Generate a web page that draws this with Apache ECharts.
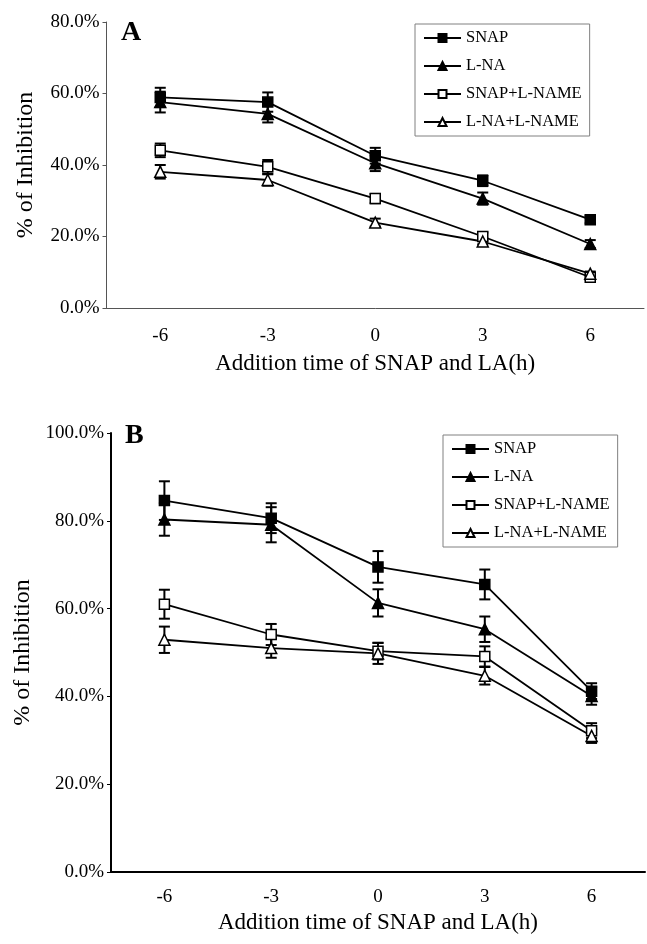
<!DOCTYPE html>
<html>
<head>
<meta charset="utf-8">
<script src="https://cdn.jsdelivr.net/npm/echarts@6/dist/echarts.min.js"></script>
<style>
html,body{margin:0;padding:0;background:#fff;}
#chart{width:647px;height:944px;}
</style>
</head>
<body>
<div id="chart"></div>
<script>
// ---- data ----
var categories = ['-6', '-3', '0', '3', '6'];
var seriesNames = ['SNAP', 'L-NA', 'SNAP+L-NAME', 'L-NA+L-NAME'];

// Panel A (% inhibition)
var snapA = [58.9, 57.6, 42.6, 35.6, 24.7];
var lnaA = [57.6, 54.3, 40.5, 30.6, 17.9];
var snapLnameA = [44.1, 39.5, 30.6, 20.0, 8.6];
var lnaLnameA = [38.1, 35.8, 23.9, 18.6, 9.6];
var snapAErr = [2.7, 2.7, 2.2, 1.5, 1.0];
var lnaAErr = [2.9, 2.4, 2.2, 1.7, 1.1];
var snapLnameAErr = [1.9, 1.9, 1.3, 1.1, 0.8];
var lnaLnameAErr = [1.9, 1.6, 1.1, 0.8, 0.6];

// Panel B (% inhibition)
var snapB = [84.6, 80.6, 69.5, 65.5, 41.2];
var lnaB = [80.3, 79.1, 61.3, 55.3, 40.1];
var snapLnameB = [61.0, 54.1, 50.3, 49.1, 32.2];
var lnaLnameB = [52.9, 51.0, 49.8, 44.7, 31.0];
var snapBErr = [4.4, 3.4, 3.6, 3.4, 1.8];
var lnaBErr = [3.7, 4.0, 3.1, 2.9, 2.0];
var snapLnameBErr = [3.3, 2.4, 1.9, 2.3, 1.7];
var lnaLnameBErr = [3.0, 2.2, 2.4, 2.0, 1.6];

// axis ticks
var yTicksA = [0, 20, 40, 60, 80];
var yTicksB = [0, 20, 40, 60, 80, 100];

var FONT = "'Times New Roman', 'Liberation Serif', serif";
var chart = echarts.init(document.getElementById('chart'));

var styles = [
  {symbol: 'rect', size: 10, fill: '#000'},
  {symbol: 'triangle', size: 11, fill: '#000'},
  {symbol: 'rect', size: 10, fill: '#fff'},
  {symbol: 'triangle', size: 11, fill: '#fff'}
];

function lineSeries(idx, name, data, gridIdx) {
  var s = styles[idx];
  return {
    type: 'line', name: name, data: data,
    xAxisIndex: gridIdx, yAxisIndex: gridIdx,
    symbol: s.symbol, symbolSize: s.size, showAllSymbol: true,
    lineStyle: {color: '#000', width: 1.8},
    itemStyle: {color: s.fill, borderColor: '#000', borderWidth: 1.5, opacity: 1},
    emphasis: {disabled: true},
    z: 3, animation: false
  };
}

function errSeries(name, vals, errs, gridIdx) {
  var d = vals.map(function (v, i) { return [i, v - errs[i], v + errs[i]]; });
  return {
    type: 'custom', name: name + ' err',
    xAxisIndex: gridIdx, yAxisIndex: gridIdx,
    data: d, z: 2, animation: false, silent: true,
    renderItem: function (params, api) {
      var lo = api.coord([api.value(0), api.value(1)]);
      var hi = api.coord([api.value(0), api.value(2)]);
      var hw = 5.5;
      var st = {stroke: '#000', lineWidth: 2};
      return {type: 'group', children: [
        {type: 'line', shape: {x1: lo[0], y1: lo[1], x2: hi[0], y2: hi[1]}, style: st},
        {type: 'line', shape: {x1: lo[0] - hw, y1: lo[1], x2: lo[0] + hw, y2: lo[1]}, style: st},
        {type: 'line', shape: {x1: hi[0] - hw, y1: hi[1], x2: hi[0] + hw, y2: hi[1]}, style: st}
      ]};
    }
  };
}

function xAx(gridIdx, axisColor, axisWidth, gap, margin) {
  return {
    type: 'category', gridIndex: gridIdx, data: categories, boundaryGap: true,
    name: 'Addition time of SNAP and LA(h)', nameLocation: 'middle', nameGap: gap,
    nameTextStyle: {fontFamily: FONT, fontSize: 23, color: '#000'},
    axisLine: {lineStyle: {color: axisColor, width: axisWidth}},
    axisTick: {inside: true, length: 5, alignWithLabel: false, lineStyle: {color: axisColor, width: 1}},
    axisLabel: {fontFamily: FONT, fontSize: 19, color: '#000', margin: margin},
    splitLine: {show: false}
  };
}
function yAx(gridIdx, ticks, axisColor, axisWidth) {
  return {
    type: 'value', gridIndex: gridIdx, min: ticks[0], max: ticks[ticks.length - 1], interval: 20,
    name: '% of Inhibition', nameLocation: 'middle', nameGap: 69, nameRotate: 90,
    nameTextStyle: {fontFamily: FONT, fontSize: 24, color: '#000'},
    axisLine: {show: true, lineStyle: {color: axisColor, width: axisWidth}},
    axisTick: {show: true, inside: false, length: 4, lineStyle: {color: axisColor, width: 1}},
    axisLabel: {fontFamily: FONT, fontSize: 19, color: '#000', margin: 7,
      formatter: function (v) { return v.toFixed(1) + '%'; }},
    splitLine: {show: false}
  };
}

function legendFor(left, top) {
  return {
    show: true, orient: 'vertical', left: left, top: top,
    data: seriesNames, itemWidth: 37, itemHeight: 10, itemGap: 10,
    padding: [5, 8, 5, 8], borderColor: '#808080', borderWidth: 1,
    backgroundColor: '#fff', selectedMode: false,
    textStyle: {fontFamily: FONT, fontSize: 16.5, color: '#000', lineHeight: 18}
  };
}

var series = [
  lineSeries(0, seriesNames[0], snapA, 0),
  lineSeries(1, seriesNames[1], lnaA, 0),
  lineSeries(2, seriesNames[2], snapLnameA, 0),
  lineSeries(3, seriesNames[3], lnaLnameA, 0),
  errSeries('A1', snapA, snapAErr, 0),
  errSeries('A2', lnaA, lnaAErr, 0),
  errSeries('A3', snapLnameA, snapLnameAErr, 0),
  errSeries('A4', lnaLnameA, lnaLnameAErr, 0),
  lineSeries(0, seriesNames[0], snapB, 1),
  lineSeries(1, seriesNames[1], lnaB, 1),
  lineSeries(2, seriesNames[2], snapLnameB, 1),
  lineSeries(3, seriesNames[3], lnaLnameB, 1),
  errSeries('B1', snapB, snapBErr, 1),
  errSeries('B2', lnaB, lnaBErr, 1),
  errSeries('B3', snapLnameB, snapLnameBErr, 1),
  errSeries('B4', lnaLnameB, lnaLnameBErr, 1)
];

chart.setOption({
  backgroundColor: '#fff',
  animation: false,
  title: [
    {text: 'A', left: 116, top: 14, textStyle: {fontFamily: FONT, fontSize: 28, fontWeight: 'bold', color: '#000'}},
    {text: 'B', left: 120, top: 417, textStyle: {fontFamily: FONT, fontSize: 28, fontWeight: 'bold', color: '#000'}}
  ],
  legend: [legendFor(415, 24), legendFor(443, 435)],
  grid: [
    {left: 106.5, width: 537.5, top: 22, height: 286, containLabel: false},
    {left: 111, width: 534, top: 433, height: 439, containLabel: false}
  ],
  xAxis: [xAx(0, '#555', 1, 44, 19), xAx(1, '#000', 2, 39, 16)],
  yAxis: [yAx(0, yTicksA, '#555', 1), yAx(1, yTicksB, '#000', 2)],
  series: series
});
</script>
</body>
</html>
